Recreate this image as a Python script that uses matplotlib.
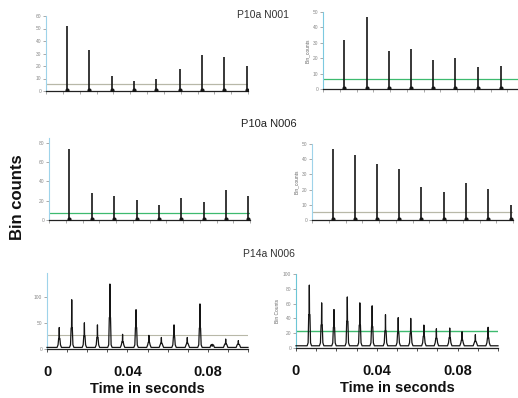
import numpy as np
import matplotlib
matplotlib.use("Agg")
import matplotlib.pyplot as plt

plt.rcParams['font.family'] = ['Liberation Sans', 'DejaVu Sans']

W, H = 518, 398

# ---- P10a N001 -------------------------------------------------------
p10_n001_left_t = [0.0104, 0.0214, 0.0328, 0.0438, 0.0547, 0.0662, 0.0771, 0.0881, 0.0995]
p10_n001_left_h = [52, 33, 12, 8, 10, 18, 29, 27, 20]
p10_n001_left_thr = 5.6

p10_n001_right_t = [0.0104, 0.0219, 0.0328, 0.0438, 0.0547, 0.0657, 0.0771, 0.0886]
p10_n001_right_h = [32, 46.5, 25, 26, 19, 20, 14.5, 15]
p10_n001_right_thr = 6.4

# ---- P10a N006 -------------------------------------------------------
p10_n006_left_t = [0.0100, 0.0214, 0.0323, 0.0438, 0.0547, 0.0657, 0.0771, 0.0881, 0.0990]
p10_n006_left_h = [74, 28, 25, 21, 16, 23, 19, 31, 25]
p10_n006_left_thr = 7.0

p10_n006_right_t = [0.0104, 0.0214, 0.0323, 0.0433, 0.0542, 0.0657, 0.0766, 0.0876, 0.0990]
p10_n006_right_h = [46.5, 42.5, 37, 33.5, 22, 18.5, 24.5, 20.5, 10]
p10_n006_right_thr = 5.5

# ---- P14a N006 -------------------------------------------------------
p14_left_t = [0.0061, 0.0123, 0.0186, 0.0251, 0.0313, 0.0376, 0.0443, 0.0507,
              0.0569, 0.0632, 0.0698, 0.0761, 0.0822, 0.0889, 0.0952]
p14_left_h = [41, 94, 50, 46, 124, 28, 75, 26, 22, 46, 22, 86, 9, 19, 16]
p14_left_s = [20, 40, 25, 22, 60, 14, 41, 13, 11, 24, 11, 40, 6, 10, 9]
p14_left_thr = 27

p14_right_t = [0.0066, 0.0127, 0.0188, 0.0254, 0.0316, 0.0377, 0.0443, 0.0506,
               0.0568, 0.0633, 0.0695, 0.0761, 0.0822, 0.0888, 0.0951]
p14_right_h = [85, 61, 52, 69, 61, 57, 45, 41, 40, 31, 26, 27, 22, 18, 28]
p14_right_s = [45, 31, 28, 36, 31, 29, 23, 21, 20, 16, 13, 14, 11, 9, 14]
p14_right_thr = 23.4

x_ticks_labelled = [0, 0.04, 0.08]
x_tick_text = ["0", "0.04", "0.08"]

GREEN = "#3dba6f"
GREY_THR = "#b8b8a8"
SPINE_BLUE = "#9ed3ea"
TICK_GREY = "#888888"
TRACE = "#151515"

fig = plt.figure(figsize=(W / 100, H / 100), dpi=100)
fig.patch.set_facecolor("white")


def px_axes(left, width, ytop, ybottom):
    return fig.add_axes([left / W, (H - ybottom) / H, width / W, (ybottom - ytop) / H])


def style_axes(ax, ylim, yticks, xminor=0.1 / 12):
    ax.set_xlim(0, 0.1)
    ax.set_ylim(*ylim)
    for side in ("top", "right"):
        ax.spines[side].set_visible(False)
    ax.spines["left"].set_color(SPINE_BLUE)
    ax.spines["left"].set_linewidth(0.8)
    ax.spines["bottom"].set_color("#222222")
    ax.spines["bottom"].set_linewidth(0.9)
    ax.set_yticks(yticks)
    ax.set_yticklabels([str(v) for v in yticks], fontsize=3.5, color=TICK_GREY)
    ax.tick_params(axis="y", length=2, width=0.5, color=TICK_GREY, pad=1.5)
    ax.set_xticks(np.arange(0, 0.1 + 1e-9, xminor))
    ax.set_xticklabels([])
    ax.tick_params(axis="x", length=2, width=0.5, color=TICK_GREY)
    ax.set_facecolor("none")


def spikes(ax, t, h, thr, thr_color, lw=1.2):
    ax.axhline(thr, color=thr_color, lw=0.9, zorder=1)
    ax.vlines(t, 0, h, color=TRACE, lw=lw, zorder=3)
    ax.plot(t, [0.8] * len(t), ls="none", marker="o", ms=2.0, color=TRACE, zorder=3)


def trace(ax, t, h, s, base, bump):
    xs, ys = [0.0], [base]
    for ti, hi, si in zip(t, h, s):
        xs += [ti - 0.0011, ti - 0.0006, ti - 0.0003, ti - 0.0001, ti, ti + 0.0001,
               ti + 0.0003, ti + 0.0006, ti + 0.0011]
        ys += [base, base + bump, si, si, hi, si, si, base + bump, base]
    xs.append(0.1)
    ys.append(base)
    ax.plot(xs, ys, color=TRACE, lw=0.9, zorder=3, clip_on=False)


# top row
ax1 = px_axes(46, 202, 16, 91)
style_axes(ax1, (0, 60), [0, 10, 20, 30, 40, 50, 60])
spikes(ax1, p10_n001_left_t, p10_n001_left_h, p10_n001_left_thr, GREY_THR)

ax2 = px_axes(323, 201, 12, 89)
style_axes(ax2, (0, 50), [0, 10, 20, 30, 40, 50])
ax2.spines["left"].set_color("#7cc9e0")
spikes(ax2, p10_n001_right_t, p10_n001_right_h, p10_n001_right_thr, GREEN)
ax2.set_ylabel("Bin_counts", fontsize=3.5, color="#666666", labelpad=2)

# middle row
ax3 = px_axes(49, 201, 138, 220)
style_axes(ax3, (0, 85), [0, 20, 40, 60, 80])
spikes(ax3, p10_n006_left_t, p10_n006_left_h, p10_n006_left_thr, GREEN)

ax4 = px_axes(312, 201, 144, 220)
style_axes(ax4, (0, 50), [0, 10, 20, 30, 40, 50])
spikes(ax4, p10_n006_right_t, p10_n006_right_h, p10_n006_right_thr, GREY_THR)
ax4.set_ylabel("Bin_counts", fontsize=3.5, color="#666666", labelpad=2)

# bottom row
ax5 = px_axes(47, 201, 273, 349)
style_axes(ax5, (0, 145), [0, 50, 100], xminor=0.01)
ax5.axhline(p14_left_thr, color=GREY_THR, lw=0.8, zorder=1)
trace(ax5, p14_left_t, p14_left_h, p14_left_s, 3, 5)

ax6 = px_axes(296, 202, 274, 348)
style_axes(ax6, (0, 100), [0, 20, 40, 60, 80, 100], xminor=0.01)
ax6.spines["left"].set_color("#6cc6d6")
ax6.axhline(p14_right_thr, color=GREEN, lw=1.0, zorder=1)
trace(ax6, p14_right_t, p14_right_h, p14_right_s, 3, 4)
ax6.set_ylabel("Bin Counts", fontsize=3.5, color="#666666", labelpad=2)

for ax in (ax5, ax6):
    ax.set_xticks(x_ticks_labelled)
    ax.set_xticklabels(x_tick_text, fontsize=10.5, fontweight="bold", color="#111111")
    ax.set_xticks(np.arange(0, 0.1 + 1e-9, 0.01), minor=True)
    ax.tick_params(axis="x", which="both", length=2.5, width=0.6, color="#333333", pad=9)
    ax.set_xlabel("Time in seconds", fontsize=10.5, fontweight="bold", color="#111111",
                  labelpad=2)

# section titles
fig.text(263 / W, 1 - 15 / H, "P10a N001", ha="center", va="center", fontsize=7.5,
         color="#333333")
fig.text(269 / W, 1 - 124 / H, "P10a N006", ha="center", va="center", fontsize=8,
         color="#222222")
fig.text(269 / W, 1 - 254 / H, "P14a N006", ha="center", va="center", fontsize=7.5,
         color="#333333")

fig.text(18 / W, 1 - 197 / H, "Bin counts", rotation=90, ha="center", va="center",
         fontsize=12, fontweight="bold", color="#111111")

fig.savefig("out.png", dpi=100, facecolor="white")
